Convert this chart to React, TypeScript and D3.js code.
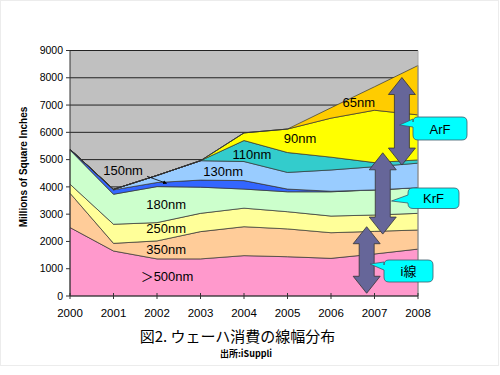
import React from "react";
import * as d3 from "d3";

const years = [2000, 2001, 2002, 2003, 2004, 2005, 2006, 2007, 2008];
const seriesNames = [">500nm", "350nm", "250nm", "180nm", "150nm", "130nm", "110nm", "90nm", "65nm"];
const s500 = [2510, 1650, 1360, 1360, 1480, 1440, 1380, 1540, 1720];
const s350 = [1260, 280, 660, 1000, 1060, 1020, 940, 830, 700];
const s250 = [330, 700, 670, 670, 680, 630, 610, 600, 610];
const s180 = [1250, 1100, 1320, 960, 700, 730, 890, 920, 940];
const s150 = [30, 160, 150, 260, 310, 100, 20, 0, 0];
const s130 = [0, 20, 260, 710, 700, 610, 780, 850, 900];
const s110 = [0, 0, 0, 0, 770, 730, 470, 150, 120];
const s90 = [0, 0, 0, 0, 280, 860, 1430, 1920, 1650];
const s65 = [0, 0, 0, 0, 0, 0, 380, 860, 1810];
const yTicks = [0, 1000, 2000, 3000, 4000, 5000, 6000, 7000, 8000, 9000];
const colors = ["#FF99CC", "#FFCC99", "#FFFF99", "#CCFFCC", "#3366FF", "#99CCFF", "#33CCCC", "#FFFF00", "#FFCC00"];

// in-plot labels, positioned in data coordinates [year, value]
const labelTexts = ["＞500nm", "350nm", "250nm", "180nm", "150nm", "130nm", "110nm", "90nm", "65nm"];
const labelPos: [number, number][] = [
  [2002.23, 730], [2002.21, 1720], [2002.21, 2490], [2002.21, 3370],
  [2001.22, 4615], [2003.52, 4580], [2004.18, 5200], [2005.29, 5790], [2006.64, 7100],
];
// double arrows: [year, top value, bottom value]
const arrowNames = ["ArF", "KrF", "i線"];
const arrowSpans: [number, number, number][] = [
  [2007.63, 8010, 4800],
  [2007.19, 5250, 2270],
  [2006.82, 2540, 100],
];

const W = 500, H = 375;
const L = 70, R = 418, T = 50.5, B = 296;

function callout(x: number, y: number, w: number, h: number, r: number, tx: number, ty: number, b1: number, b2: number) {
  return `M${x + r},${y} L${x + w - r},${y} Q${x + w},${y} ${x + w},${y + r} L${x + w},${y + h - r} Q${x + w},${y + h} ${x + w - r},${y + h} L${x + r},${y + h} Q${x},${y + h} ${x},${y + h - r} L${x},${b2} L${tx},${ty} L${x},${b1} L${x},${y + r} Q${x},${y} ${x + r},${y} Z`;
}

function dblArrow(cx: number, top: number, bot: number) {
  const hw = 13.5, hl = 17, sw = 7.5;
  return `M${cx},${top} L${cx + hw},${top + hl} L${cx + sw},${top + hl} L${cx + sw},${bot - hl} L${cx + hw},${bot - hl} L${cx},${bot} L${cx - hw},${bot - hl} L${cx - sw},${bot - hl} L${cx - sw},${top + hl} L${cx - hw},${top + hl} Z`;
}

export default function App() {
  const x = d3.scaleLinear().domain([2000, 2008]).range([L, R]);
  const y = d3.scaleLinear().domain([0, 9000]).range([B, T]);
  const all = [s500, s350, s250, s180, s150, s130, s110, s90, s65];
  const table = years.map((yr, i) => {
    const row: any = { year: yr };
    seriesNames.forEach((n, k) => (row[n] = all[k][i]));
    return row;
  });
  const stacked = d3.stack<any>().keys(seriesNames)(table);
  const area = d3
    .area<any>()
    .x((d) => x(d.data.year))
    .y0((d) => y(d[0]))
    .y1((d) => y(d[1]))
    .curve(d3.curveLinear);

  const latin = "'Liberation Sans', Arial, sans-serif";
  const cjk = "'Noto Sans CJK JP', sans-serif";

  const callouts = [
    { box: [413, 117, 54, 23], tip: [399.5, 125], base: [119, 127], text: [440, 129] },
    { box: [408, 188, 51, 20.5], tip: [391.5, 201], base: [195, 203], text: [433.5, 198.5] },
    { box: [384, 260, 49, 22], tip: [370, 264], base: [262, 270], text: [408.5, 271.5] },
  ];

  return (
    <svg width={W} height={H} style={{ position: "absolute", left: 0, top: 0, background: "#fff" }}>
      <rect x={0.5} y={0.5} width={498} height={365} fill="none" stroke="#ececec" />
      <rect x={L} y={T} width={R - L} height={B - T} fill="#C0C0C0" />
      {yTicks.slice(1).map((t) => (
        <line key={t} x1={L} x2={R} y1={y(t)} y2={y(t)} stroke="#222" strokeWidth={1} />
      ))}
      {stacked.map((s, k) => (
        <path key={k} d={area(s) || ""} fill={colors[k]} stroke="#333" strokeWidth={0.7} strokeLinejoin="round" />
      ))}
      <line x1={R} x2={R} y1={T} y2={B} stroke="#a8a8a8" strokeWidth={1} />
      <line x1={L} x2={L} y1={T} y2={B} stroke="#333" strokeWidth={1} />
      <line x1={L} x2={R} y1={B} y2={B} stroke="#333" strokeWidth={1} />
      {yTicks.map((t) => (
        <g key={t}>
          <line x1={L - 4} x2={L} y1={y(t)} y2={y(t)} stroke="#333" />
          <text x={63} y={y(t)} dy="0.35em" textAnchor="end" fontFamily={latin} fontSize={10.5} fill="#000">
            {t}
          </text>
        </g>
      ))}
      {years.map((yr) => (
        <g key={yr}>
          <line x1={x(yr)} x2={x(yr)} y1={B - 3} y2={B + 3} stroke="#333" />
          <text x={x(yr)} y={313} dy="0.35em" textAnchor="middle" fontFamily={latin} fontSize={11.5} fill="#000">
            {yr}
          </text>
        </g>
      ))}
      <text
        transform={`translate(23,167) rotate(-90)`}
        textAnchor="middle"
        dy="0.35em"
        fontFamily={latin}
        fontWeight="bold"
        fontSize={10}
        fill="#000"
      >
        Millions of Square Inches
      </text>
      {labelTexts.map((t, i) => (
        <text
          key={t}
          x={x(labelPos[i][0])}
          y={y(labelPos[i][1])}
          dy="0.35em"
          textAnchor="middle"
          fontFamily={latin + ", " + cjk}
          fontSize={13}
          fill="#000"
        >
          {t}
        </text>
      ))}
      {/* 150nm pointer */}
      <defs>
        <marker id="ah" viewBox="0 0 10 10" refX="9" refY="5" markerWidth="5" markerHeight="5" orient="auto">
          <path d="M0,0 L10,5 L0,10 Z" fill="#000" />
        </marker>
      </defs>
      <line x1={x(2001.77)} y1={y(4390)} x2={x(2002.22)} y2={y(4130)} stroke="#000" strokeWidth={0.8} markerEnd="url(#ah)" />
      {arrowSpans.map((a, i) => (
        <path key={arrowNames[i]} d={dblArrow(x(a[0]), y(a[1]), y(a[2]))} fill="#666699" stroke="#333" strokeWidth={0.8} />
      ))}
      {callouts.map((c, i) => (
        <g key={i}>
          <path
            d={callout(c.box[0], c.box[1], c.box[2], c.box[3], 5, c.tip[0], c.tip[1], c.base[0], c.base[1])}
            fill="#00FFFF"
            stroke="#3a5a6a"
            strokeWidth={0.8}
          />
          <text x={c.text[0]} y={c.text[1]} dy="0.35em" textAnchor="middle" fontFamily={latin + ", " + cjk} fontSize={13} fill="#000">
            {arrowNames[i]}
          </text>
        </g>
      ))}
      <text x={237.5} y={337} dy="0.35em" textAnchor="middle" fontFamily={cjk} fontSize={15} fill="#000">
        図2. ウェーハ消費の線幅分布
      </text>
      <text x={246} y={353.5} dy="0.35em" textAnchor="middle" fontFamily={cjk} fontWeight="bold" fontSize={9} fill="#000">
        出所:iSuppli
      </text>
    </svg>
  );
}
